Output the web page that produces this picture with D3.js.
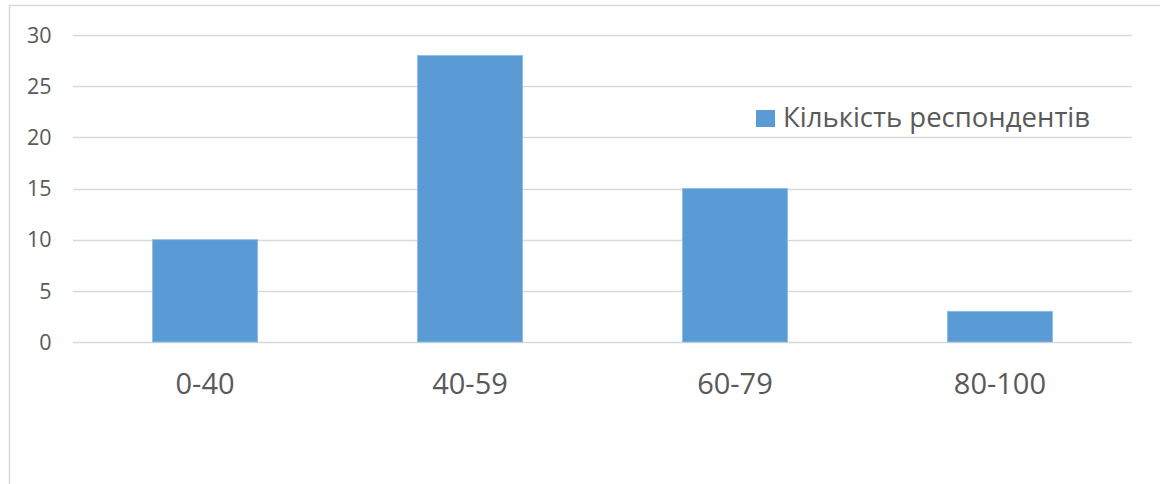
<!DOCTYPE html>
<html>
<head>
<meta charset="utf-8">
<script src="https://cdn.jsdelivr.net/npm/d3@7"></script>
<style>
  body { margin: 0; background: #fff; }
  svg { display: block; font-family: "Open Sans", "Noto Sans", sans-serif; }
</style>
</head>
<body>
<div id="chart"></div>
<script>
const categories = ['0-40', '40-59', '60-79', '80-100'];
const respondents = [10, 28, 15, 3];
const yTicks = [0, 5, 10, 15, 20, 25, 30];
const seriesName = 'Кількість респондентів';

const width = 1160;
const height = 484;
const margin = { top: 35, right: 28, bottom: 142, left: 73 };

const svg = d3.select('#chart')
    .append('svg')
    .attr('width', width)
    .attr('height', height);

// Chart area border (runs off the right and bottom of the picture)
svg.append('rect')
    .attr('x', 9.5)
    .attr('y', 5.5)
    .attr('width', width + 10)
    .attr('height', height + 10)
    .attr('fill', 'none')
    .attr('stroke', '#d9d9d9')
    .attr('stroke-width', 1.5);

const xScale = d3.scaleBand()
    .domain(categories)
    .range([margin.left, width - margin.right])
    .paddingInner(0.603)
    .paddingOuter(0.3);

const yScale = d3.scaleLinear()
    .domain([0, 30])
    .range([height - margin.bottom, margin.top]);

// Gridlines
svg.append('g')
    .selectAll('line')
    .data(yTicks)
    .join('line')
    .attr('x1', margin.left)
    .attr('x2', width - margin.right)
    .attr('y1', d => Math.round(yScale(d)) + 0.5)
    .attr('y2', d => Math.round(yScale(d)) + 0.5)
    .attr('stroke', '#d9d9d9')
    .attr('stroke-width', 1.5);

// Y labels
svg.append('g')
    .selectAll('text')
    .data(yTicks)
    .join('text')
    .attr('x', 51.5)
    .attr('y', d => yScale(d))
    .attr('dy', '0.36em')
    .attr('text-anchor', 'end')
    .attr('fill', '#595959')
    .attr('font-size', 21.5)
    .text(d => d);

// Bars
svg.append('g')
    .selectAll('rect')
    .data(respondents)
    .join('rect')
    .attr('x', (d, i) => xScale(categories[i]))
    .attr('y', d => yScale(d))
    .attr('width', xScale.bandwidth())
    .attr('height', d => yScale(0) - yScale(d))
    .attr('fill', '#5b9bd5')
    .attr('stroke', '#8fbde6')
    .attr('stroke-width', 0.8);

// X labels
svg.append('g')
    .selectAll('text')
    .data(categories)
    .join('text')
    .attr('x', d => xScale(d) + xScale.bandwidth() / 2)
    .attr('y', 394)
    .attr('text-anchor', 'middle')
    .attr('fill', '#595959')
    .attr('font-size', 29)
    .text(d => d);

// Legend
const legend = svg.append('g')
    .attr('transform', 'translate(756, 110)');

legend.append('rect')
    .attr('width', 19)
    .attr('height', 17)
    .attr('fill', '#5b9bd5');

legend.append('text')
    .attr('x', 27)
    .attr('y', 17)
    .attr('fill', '#595959')
    .attr('font-size', 27.5)
    .text(seriesName);
</script>
</body>
</html>
